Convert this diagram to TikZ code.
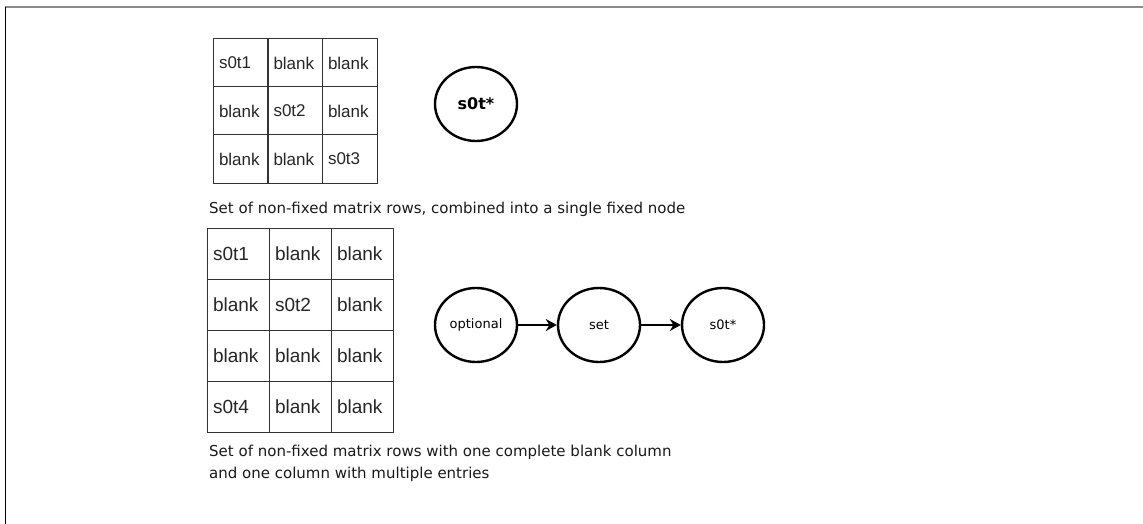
\documentclass[tikz,border=0pt]{standalone}
\usepackage{fontspec}
\setmainfont{DejaVu Sans}
\newfontfamily\cellfont{Liberation Sans}
\usetikzlibrary{positioning, calc, shapes.geometric, arrows.meta}

\begin{document}
\begin{tikzpicture}[x=1pt, y=-1pt,
            cell/.style={rectangle, draw=black!80, line width=1pt, inner xsep=6pt, align=left, font=\cellfont\fontsize{17}{20}\selectfont, text=black!85},
            smallcell/.style={cell, minimum height=48pt, text width=43pt},
            bigcell/.style={cell, minimum height=51pt, text width=50pt, inner xsep=6pt, font=\cellfont\fontsize{19}{22}\selectfont},
            state/.style={draw, ellipse, line width=2.4pt, minimum width=82pt, minimum height=74pt, inner sep=0pt, font=\fontsize{13}{15}\selectfont},
            link/.style={-{Stealth[length=11pt, width=12pt]}, line width=2pt},
            caption/.style={anchor=west, align=left, inner sep=0pt, font=\fontsize{15}{22}\selectfont, text=black!90}
        ]
            \useasboundingbox (0,0) rectangle (1143,524);
            \draw[line width=2pt, gray!90] (5,7) -- (1143,7);
            \draw[line width=1.5pt] (5.5,7) -- (5.5,524);

            % first matrix
            \node[smallcell] (a11) at (240.5,63) {s0t1};
            \node[smallcell] (a12) at (295,63) {blank};
            \node[smallcell] (a13) at (349.5,63) {blank};
            \node[smallcell] (a21) at (240.5,111) {blank};
            \node[smallcell] (a22) at (295,111) {s0t2};
            \node[smallcell] (a23) at (349.5,111) {blank};
            \node[smallcell] (a31) at (240.5,159) {blank};
            \node[smallcell] (a32) at (295,159) {blank};
            \node[smallcell] (a33) at (349.5,159) {s0t3};

            \node[state, font=\bfseries\fontsize{16}{18}\selectfont] (fixed) at (476,104) {s0t*};
            \node[caption] (cap1) at (209,209) {Set of non-fixed matrix rows, combined into a single fixed node};

            % second matrix
            \node[bigcell] (b11) at (238,253.5) {s0t1};
            \node[bigcell] (b12) at (300,253.5) {blank};
            \node[bigcell] (b13) at (362,253.5) {blank};
            \node[bigcell] (b21) at (238,304.5) {blank};
            \node[bigcell] (b22) at (300,304.5) {s0t2};
            \node[bigcell] (b23) at (362,304.5) {blank};
            \node[bigcell] (b31) at (238,355.5) {blank};
            \node[bigcell] (b32) at (300,355.5) {blank};
            \node[bigcell] (b33) at (362,355.5) {blank};
            \node[bigcell] (b41) at (238,406.5) {s0t4};
            \node[bigcell] (b42) at (300,406.5) {blank};
            \node[bigcell] (b43) at (362,406.5) {blank};

            \node[state] (optional) at (476,325) {optional};
            \node[state] (set) at (599,325) {set};
            \node[state] (star) at (723,325) {s0t*};

            \draw[link] (optional) -- (set);
            \draw[link] (set) -- (star);

            \node[caption, anchor=north west] (cap2) at (209,445) {Set of non-fixed matrix rows with one complete blank column\\and one column with multiple entries};
        \end{tikzpicture}
\end{document}
